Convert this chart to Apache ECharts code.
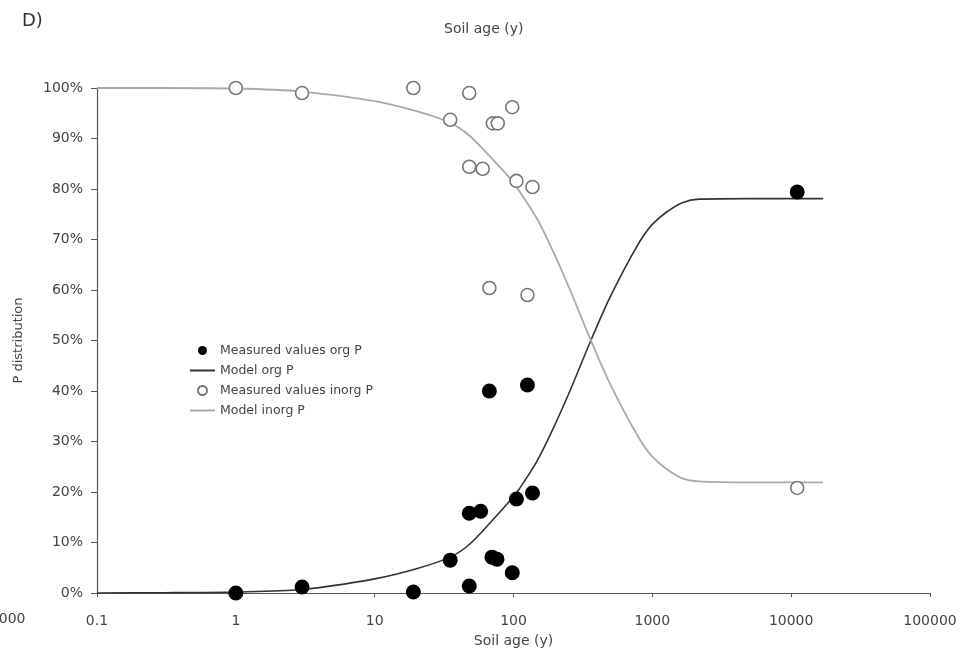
<!DOCTYPE html>
<html><head><meta charset="utf-8">
<script src="https://cdn.jsdelivr.net/npm/echarts@6/dist/echarts.min.js"></script>
<style>html,body{margin:0;padding:0;background:#fff}#c{width:967px;height:656px}</style>
</head><body><div id="c"></div>
<script>
// Measured values (soil age in years, % of total P)
const orgAges   = [1, 3, 19, 35, 48, 58, 48, 70, 76, 98, 105, 137, 67, 126, 11050];
const orgVals   = [0, 1.2, 0.2, 6.5, 15.8, 16.2, 1.4, 7.1, 6.7, 4, 18.6, 19.8, 40, 41.2, 79.4];
const inorgAges = [1, 3, 19, 35, 48, 48, 60, 71, 77, 98, 105, 137, 67, 126, 11050];
const inorgVals = [100, 99, 100, 93.7, 99, 84.4, 84, 93, 93, 96.2, 81.6, 80.4, 60.4, 59, 20.8];
// Model curves
const modelAges      = [0.1, 0.3, 1, 3, 10, 20, 35, 48, 70, 98, 110, 147, 191, 253, 352, 466, 580, 700, 847, 1000, 1260, 1645, 2170, 5000, 17000];
const modelOrgVals   = [0, 0.05, 0.2, 0.7, 2.8, 4.8, 7.1, 9.6, 14.3, 18.8, 20.6, 26, 32.3, 39.8, 49.3, 57, 62.3, 66.5, 70.4, 73, 75.4, 77.3, 78, 78.1, 78.1];
const modelInorgVals = [100, 100, 99.9, 99.3, 97.4, 95.4, 93.1, 90.6, 86, 81.6, 79.6, 74.2, 67.9, 60.3, 50.7, 43, 37.7, 33.5, 29.6, 27, 24.6, 22.7, 22.1, 21.9, 21.9];
const xTicks = ['0.1', '1', '10', '100', '1000', '10000', '100000'];

const zip = (a, b) => a.map((v, i) => [v, b[i]]);
const txt = '#444';
const font = 'DejaVu Sans, Liberation Sans, Arial, sans-serif';

const chart = echarts.init(document.getElementById('c'));
chart.setOption({
  animation: false,
  backgroundColor: '#fff',
  textStyle: { fontFamily: font },
  grid: { left: 97, right: 37, top: 88, bottom: 63, containLabel: false },
  xAxis: {
    type: 'log', logBase: 10, min: 0.1, max: 100000,
    name: 'Soil age (y)', nameLocation: 'middle', nameGap: 41,
    nameTextStyle: { color: txt, fontSize: 14, fontFamily: font },
    axisLine: { lineStyle: { color: '#555', width: 1.2 } },
    axisTick: { show: true, length: 4, lineStyle: { color: '#555' } },
    minorTick: { show: false },
    splitLine: { show: false },
    axisLabel: {
      color: txt, fontSize: 14, margin: 21, fontFamily: font,
      formatter: v => { const e = Math.round(Math.log10(v)); return xTicks[e + 1] || ''; }
    }
  },
  yAxis: {
    type: 'value', min: 0, max: 100, interval: 10,
    name: 'P distribution', nameLocation: 'middle', nameGap: 72, nameRotate: 90,
    nameTextStyle: { color: txt, fontSize: 13, fontFamily: font },
    axisLine: { show: true, lineStyle: { color: '#555', width: 1.2 } },
    axisTick: { show: true, length: 6, lineStyle: { color: '#555' } },
    splitLine: { show: false },
    axisLabel: { color: txt, fontSize: 14, margin: 14, formatter: '{value}%', fontFamily: font }
  },
  legend: {
    orient: 'vertical', left: 184, top: 339, itemWidth: 25, itemHeight: 9, itemGap: 7,
    textStyle: { color: txt, fontSize: 12.5, fontFamily: font },
    data: [
      { name: 'Measured values org P', icon: 'circle' },
      { name: 'Model org P', itemStyle: { opacity: 0 } },
      { name: 'Measured values inorg P', icon: 'circle' },
      { name: 'Model inorg P', itemStyle: { opacity: 0 } }
    ]
  },
  graphic: [
    { type: 'text', left: 22, top: 12, style: { text: 'D)', fill: '#333', font: '18px ' + font } },
    { type: 'text', left: 444, top: 22, style: { text: 'Soil age (y)', fill: txt, font: '14px ' + font } },
    { type: 'text', left: -28, top: 612, style: { text: '100000', fill: txt, font: '14px ' + font } }
  ],
  series: [
    { name: 'Model org P', type: 'line', data: zip(modelAges, modelOrgVals), symbol: 'none', smooth: 0.3,
      lineStyle: { color: '#333', width: 1.6 }, itemStyle: { color: '#333' }, z: 2 },
    { name: 'Model inorg P', type: 'line', data: zip(modelAges, modelInorgVals), symbol: 'none', smooth: 0.3,
      lineStyle: { color: '#aaa', width: 1.8 }, itemStyle: { color: '#aaa' }, z: 2 },
    { name: 'Measured values org P', type: 'scatter', data: zip(orgAges, orgVals), symbol: 'circle', symbolSize: 15,
      itemStyle: { color: '#000', opacity: 1 }, z: 3 },
    { name: 'Measured values inorg P', type: 'scatter', data: zip(inorgAges, inorgVals), symbol: 'circle', symbolSize: 13,
      itemStyle: { color: '#fff', borderColor: '#777', borderWidth: 1.6, opacity: 1 }, z: 3 }
  ]
});
</script></body></html>
